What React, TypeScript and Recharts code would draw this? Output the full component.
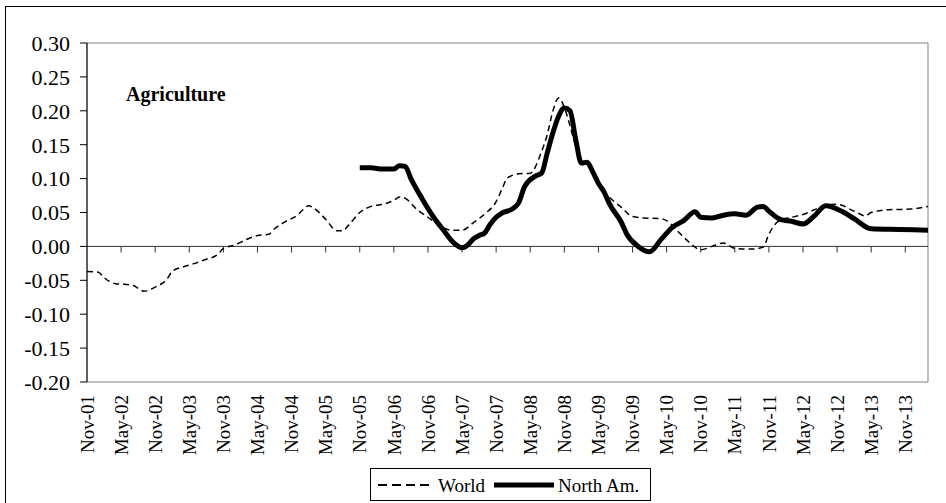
import {
  Line,
  LineChart,
  ReferenceArea,
  ReferenceLine,
  XAxis,
  YAxis,
} from "recharts";

const FONT = "'Liberation Serif', 'Times New Roman', serif";

// month index counted from Nov-01
const TICK_LABELS = [
  "Nov-01", "May-02", "Nov-02", "May-03", "Nov-03", "May-04", "Nov-04",
  "May-05", "Nov-05", "May-06", "Nov-06", "May-07", "Nov-07", "May-08",
  "Nov-08", "May-09", "Nov-09", "May-10", "Nov-10", "May-11", "Nov-11",
  "May-12", "Nov-12", "May-13", "Nov-13",
];
const X_TICKS = TICK_LABELS.map((_, i) => i * 6);
const Y_TICKS = [-0.2, -0.15, -0.1, -0.05, 0, 0.05, 0.1, 0.15, 0.2, 0.25, 0.3];

const WORLD_M = [
  0, 2, 3, 5, 8, 10, 12, 14, 15, 17, 19, 21, 23, 24, 26, 28, 30, 32, 33, 35,
  37, 38, 39, 40, 42, 44, 45, 46, 48, 50, 52, 54, 55, 56, 58, 60, 62, 64, 66,
  68, 70, 72, 73, 74, 76, 78, 80, 81, 82, 83, 84, 85, 86, 87, 88, 89, 90, 92,
  94, 96, 98, 101, 102, 104, 106, 108, 110, 112, 114, 117, 119, 120, 122, 124,
  126, 128, 130, 132, 135, 137, 138, 141, 145, 148,
];
const WORLD_V = [
  -0.037, -0.038, -0.046, -0.055, -0.057, -0.066, -0.06, -0.049, -0.037,
  -0.03, -0.025, -0.019, -0.012, -0.003, 0.002, 0.01, 0.016, 0.018, 0.026,
  0.037, 0.046, 0.054, 0.06, 0.056, 0.04, 0.023, 0.023, 0.031, 0.05, 0.059,
  0.062, 0.068, 0.073, 0.071, 0.055, 0.043, 0.031, 0.024, 0.024, 0.035, 0.048,
  0.066, 0.084, 0.101, 0.107, 0.108, 0.14, 0.165, 0.2, 0.219, 0.205, 0.178,
  0.148, 0.126, 0.122, 0.108, 0.092, 0.072, 0.058, 0.044, 0.042, 0.041, 0.038,
  0.022, 0.006, -0.005, 0.0, 0.005, -0.003, -0.004, -0.001, 0.018, 0.039,
  0.043, 0.047, 0.054, 0.061, 0.062, 0.052, 0.045, 0.05, 0.054, 0.055, 0.059,
];

const NORTH_M = [
  48, 50, 52, 54, 55, 56, 57, 59, 61, 63, 64, 65, 66, 67, 68, 69, 70, 71, 72,
  73, 75, 76, 77, 79, 80, 81, 82, 83, 84, 85, 86, 87, 88, 89, 90, 91, 92, 94,
  95, 97, 99, 101, 103, 105, 107, 108, 110, 112, 114, 116, 118, 119, 120, 122,
  124, 126, 128, 130, 133, 135, 138, 143, 148,
];
const NORTH_V = [
  0.116, 0.116, 0.114, 0.114, 0.119, 0.118, 0.1, 0.07, 0.043, 0.021, 0.01,
  0.002, -0.002, 0.002, 0.011, 0.016, 0.02, 0.033, 0.043, 0.049, 0.056, 0.065,
  0.088, 0.104, 0.108, 0.138, 0.168, 0.192, 0.204, 0.2, 0.158, 0.123, 0.124,
  0.11, 0.093, 0.08, 0.062, 0.036, 0.018, 0.0, -0.008, 0.01, 0.028, 0.038,
  0.051, 0.043, 0.042, 0.046, 0.048, 0.046, 0.058, 0.059, 0.052, 0.04, 0.037,
  0.033, 0.045, 0.06, 0.051, 0.041, 0.026, 0.025, 0.024,
];

const worldData = WORLD_M.map((m, i) => ({ m, v: WORLD_V[i] }));
const northData = NORTH_M.map((m, i) => ({ m, v: NORTH_V[i] }));

function XTick(props: any) {
  const { x, y, payload } = props;
  const idx = Math.round(payload.value / 6);
  return (
    <g transform={`translate(${x},${y + 13})`}>
      <text
        transform="rotate(-90)"
        textAnchor="end"
        dy="0.35em"
        fontSize={19}
        fontFamily={FONT}
        fill="#000"
      >
        {TICK_LABELS[idx]}
      </text>
    </g>
  );
}

export default function App() {
  return (
    <div
      style={{
        position: "fixed",
        left: 0,
        top: 0,
        width: 946,
        height: 503,
        overflow: "hidden",
        background: "#fff",
        fontFamily: FONT,
      }}
    >
      <div
        style={{
          position: "absolute",
          left: 5,
          top: 6,
          width: 980,
          height: 540,
          border: "1px solid #000",
        }}
      />
      <div style={{ position: "absolute", left: 0, top: 0 }}>
        <LineChart
          width={946}
          height={503}
          margin={{ top: 43, right: 18, bottom: 51, left: 7 }}
        >
          <XAxis
            type="number"
            dataKey="m"
            domain={[0, 148]}
            ticks={X_TICKS}
            interval={0}
            axisLine={false}
            tickLine={false}
            tickSize={0}
            tickMargin={0}
            height={70}
            tick={<XTick />}
            allowDataOverflow
          />
          <YAxis
            type="number"
            domain={[-0.2, 0.3]}
            ticks={Y_TICKS}
            interval={0}
            width={80}
            tickSize={7}
            tickMargin={10}
            stroke="#000"
            tick={{ fontSize: 22, fontFamily: FONT, fill: "#000" }}
            tickFormatter={(v) => Number(v).toFixed(2)}
            allowDataOverflow
          />
          <ReferenceArea
            x1={0}
            x2={148}
            y1={-0.2}
            y2={0.3}
            fill="none"
            stroke="#808080"
            strokeWidth={1}
          />
          <ReferenceLine y={0} stroke="#333" strokeWidth={1} />
          {X_TICKS.slice(1).map((m) => (
            <ReferenceLine
              key={m}
              segment={[
                { x: m, y: 0 },
                { x: m, y: -0.009 },
              ]}
              stroke="#333"
              strokeWidth={1}
            />
          ))}
          <Line
            data={worldData}
            dataKey="v"
            type="monotone"
            stroke="#000"
            strokeWidth={1.5}
            strokeDasharray="6 4"
            dot={false}
            isAnimationActive={false}
          />
          <Line
            data={northData}
            dataKey="v"
            type="monotone"
            stroke="#000"
            strokeWidth={5}
            strokeLinejoin="round"
            dot={false}
            isAnimationActive={false}
          />
        </LineChart>
      </div>
      <div
        style={{
          position: "absolute",
          left: 126,
          top: 84,
          fontSize: 20,
          lineHeight: "20px",
          fontWeight: "bold",
          color: "#000",
        }}
      >
        Agriculture
      </div>
      <div
        style={{
          position: "absolute",
          left: 370,
          top: 468,
          width: 279,
          height: 31,
          border: "1px solid #000",
          background: "#fff",
        }}
      >
        <svg
          width={279}
          height={31}
          style={{ position: "absolute", left: 0, top: 0 }}
        >
          <line x1={7} y1={16} x2={60} y2={16} stroke="#000" strokeWidth={2} strokeDasharray="9 5" />
          <line x1={123} y1={16} x2={183} y2={16} stroke="#000" strokeWidth={5} />
        </svg>
        <span
          style={{
            position: "absolute",
            left: 67,
            top: 7,
            fontSize: 19,
            lineHeight: "19px",
            whiteSpace: "nowrap",
          }}
        >
          World
        </span>
        <span
          style={{
            position: "absolute",
            left: 187,
            top: 7,
            fontSize: 19,
            lineHeight: "19px",
            whiteSpace: "nowrap",
          }}
        >
          North Am.
        </span>
      </div>
    </div>
  );
}
